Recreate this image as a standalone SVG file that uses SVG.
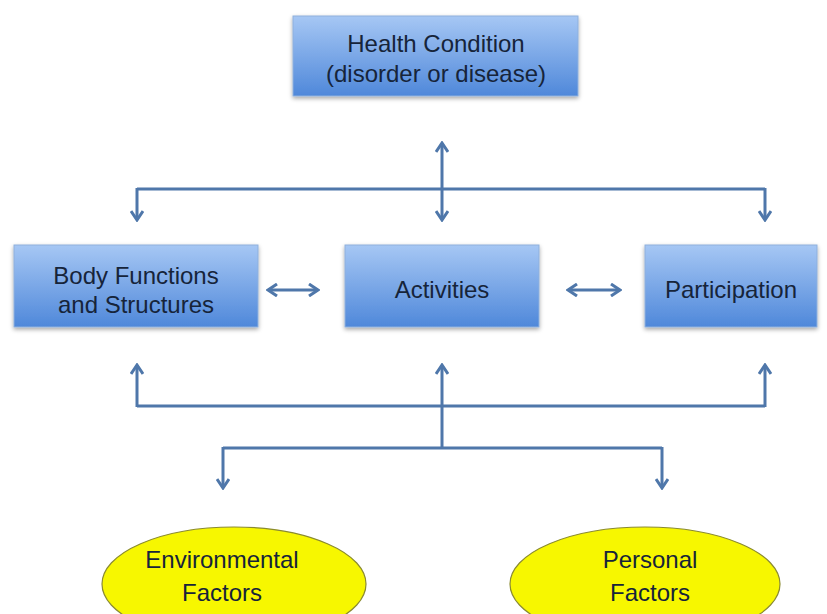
<svg xmlns="http://www.w3.org/2000/svg" width="827" height="614" viewBox="0 0 827 614">
  <defs>
    <linearGradient id="boxGrad" x1="0" y1="0" x2="0" y2="1">
      <stop offset="0" stop-color="#a6c7f4"/>
      <stop offset="1" stop-color="#4f88da"/>
    </linearGradient>
    <filter id="shadow" x="-10%" y="-10%" width="120%" height="130%">
      <feDropShadow dx="0" dy="2" stdDeviation="2" flood-color="#000" flood-opacity="0.35"/>
    </filter>
    <marker id="arr" viewBox="0 0 12 14" refX="10" refY="7" markerWidth="12" markerHeight="14" markerUnits="userSpaceOnUse" orient="auto-start-reverse">
      <path d="M1,1 L10,7 L1,13" fill="none" stroke="#4f77aa" stroke-width="3" stroke-linejoin="miter"/>
    </marker>
    <style>
      .box { fill: url(#boxGrad); stroke: #8fb0dc; stroke-width: 1; filter: url(#shadow); }
      .ell { fill: #f7f700; stroke: #8a8a30; stroke-width: 1.2; }
      .lbl { font-family: "Liberation Sans", Arial, sans-serif; font-size: 24px; fill: #16243a; text-anchor: middle; }
      .con { fill: none; stroke: #4f77aa; stroke-width: 3; }
      .arr { marker-end: url(#arr); }
      .dbl { marker-start: url(#arr); marker-end: url(#arr); }
    </style>
  </defs>

  <g id="connectors">
    <path class="con" d="M137,189 H765"/>
    <path class="con arr" d="M137,188 V220"/>
    <path class="con arr" d="M765,188 V220"/>
    <path class="con dbl" d="M442,143 V220"/>
    <path class="con dbl" d="M268,290 H318"/>
    <path class="con dbl" d="M568,290 H620"/>
    <path class="con" d="M137,406 H765"/>
    <path class="con arr" d="M137,407 V365"/>
    <path class="con arr" d="M765,407 V365"/>
    <path class="con arr" d="M442,448 V365"/>
    <path class="con" d="M223,448 H662"/>
    <path class="con arr" d="M223,447 V488"/>
    <path class="con arr" d="M662,447 V488"/>
  </g>

  <g id="health-condition">
    <rect class="box" x="293" y="16" width="285" height="80"/>
    <text class="lbl" x="436" y="52">Health Condition</text>
    <text class="lbl" x="436" y="82">(disorder or disease)</text>
  </g>

  <g id="body-functions">
    <rect class="box" x="14" y="245" width="244" height="82"/>
    <text class="lbl" x="136" y="284">Body Functions</text>
    <text class="lbl" x="136" y="313">and Structures</text>
  </g>

  <g id="activities">
    <rect class="box" x="345" y="245" width="194" height="82"/>
    <text class="lbl" x="442" y="298">Activities</text>
  </g>

  <g id="participation">
    <rect class="box" x="645" y="245" width="172" height="82"/>
    <text class="lbl" x="731" y="298">Participation</text>
  </g>

  <g id="environmental-factors">
    <ellipse class="ell" cx="234" cy="584" rx="132" ry="57"/>
    <text class="lbl" x="222" y="568">Environmental</text>
    <text class="lbl" x="222" y="601">Factors</text>
  </g>

  <g id="personal-factors">
    <ellipse class="ell" cx="645" cy="584" rx="135" ry="57"/>
    <text class="lbl" x="650" y="568">Personal</text>
    <text class="lbl" x="650" y="601">Factors</text>
  </g>
</svg>
